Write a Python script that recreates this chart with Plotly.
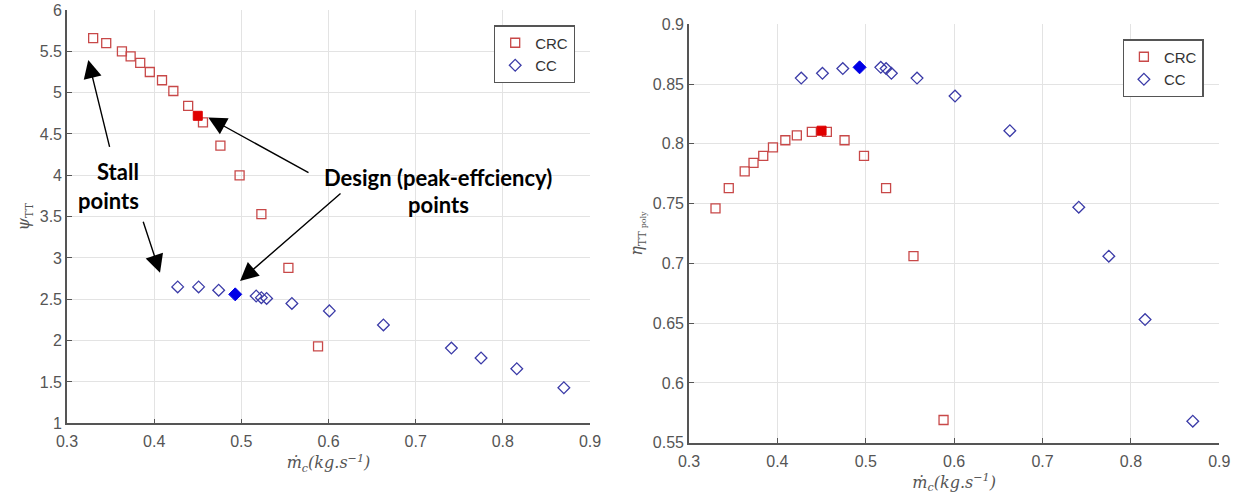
import plotly.graph_objects as go

# ---------------- data ----------------
mdot_crc = [0.330, 0.345, 0.363, 0.373, 0.384, 0.395, 0.409, 0.422, 0.439, 0.456, 0.476, 0.498, 0.523, 0.554, 0.588]
psi_crc = [5.66, 5.60, 5.50, 5.44, 5.36, 5.25, 5.15, 5.02, 4.84, 4.64, 4.36, 4.00, 3.53, 2.88, 1.93]
eta_crc = [0.746, 0.763, 0.777, 0.784, 0.790, 0.797, 0.803, 0.807, 0.810, 0.810, 0.803, 0.790, 0.763, 0.706, 0.569]

mdot_cc = [0.427, 0.451, 0.474, 0.517, 0.523, 0.529, 0.558, 0.601, 0.663, 0.741, 0.775, 0.816, 0.870]
psi_cc = [2.65, 2.65, 2.61, 2.54, 2.52, 2.51, 2.45, 2.36, 2.19, 1.91, 1.79, 1.66, 1.43]
eta_cc = [0.855, 0.859, 0.863, 0.864, 0.863, 0.859, 0.855, 0.840, 0.811, 0.747, 0.706, 0.653, 0.568]

# design (peak-efficiency) points
mdot_crc_design = [0.450]
psi_crc_design = [4.72]
eta_crc_design = [0.811]
mdot_cc_design = [0.493]
psi_cc_design = [2.56]
eta_cc_design = [0.864]

x_ticks = [0.3, 0.4, 0.5, 0.6, 0.7, 0.8, 0.9]
psi_ticks = [1, 1.5, 2, 2.5, 3, 3.5, 4, 4.5, 5, 5.5, 6]
eta_ticks = [0.55, 0.6, 0.65, 0.7, 0.75, 0.8, 0.85, 0.9]

# ---------------- style ----------------
W, H = 1239, 494
RED_OPEN = "#c84848"
BLUE_OPEN = "#3c3ca8"
RED_FILL = "#e00000"
BLUE_FILL = "#0000e6"
AX_COL = "#555555"
GRID_COL = "#e3e3e3"
TICK_FONT = dict(family="Liberation Sans, Arial, sans-serif", size=16, color="#555555")

def px_x(p):
    return p / W

def px_y(p):
    return 1 - p / H

fig = go.Figure()

sq = dict(symbol="square-open", size=9, color=RED_OPEN, line=dict(width=1.3, color=RED_OPEN))
dm = dict(symbol="diamond-open", size=9, color=BLUE_OPEN, line=dict(width=1.3, color=BLUE_OPEN))

# left subplot
fig.add_trace(go.Scatter(x=mdot_crc, y=psi_crc, mode="markers", name="CRC", marker=sq,
                         xaxis="x", yaxis="y", legend="legend"))
fig.add_trace(go.Scatter(x=mdot_cc, y=psi_cc, mode="markers", name="CC", marker=dm,
                         xaxis="x", yaxis="y", legend="legend"))
fig.add_trace(go.Scatter(x=mdot_crc_design, y=psi_crc_design, mode="markers", showlegend=False,
                         marker=dict(symbol="square", size=9, color=RED_FILL, line=dict(width=1, color=RED_FILL)),
                         xaxis="x", yaxis="y"))
fig.add_trace(go.Scatter(x=mdot_cc_design, y=psi_cc_design, mode="markers", showlegend=False,
                         marker=dict(symbol="diamond", size=10, color=BLUE_FILL, line=dict(width=1, color=BLUE_FILL)),
                         xaxis="x", yaxis="y"))

# right subplot
fig.add_trace(go.Scatter(x=mdot_crc, y=eta_crc, mode="markers", name="CRC", marker=sq,
                         xaxis="x2", yaxis="y2", legend="legend2"))
fig.add_trace(go.Scatter(x=mdot_cc, y=eta_cc, mode="markers", name="CC", marker=dm,
                         xaxis="x2", yaxis="y2", legend="legend2"))
fig.add_trace(go.Scatter(x=mdot_crc_design, y=eta_crc_design, mode="markers", showlegend=False,
                         marker=dict(symbol="square", size=9, color=RED_FILL, line=dict(width=1, color=RED_FILL)),
                         xaxis="x2", yaxis="y2"))
fig.add_trace(go.Scatter(x=mdot_cc_design, y=eta_cc_design, mode="markers", showlegend=False,
                         marker=dict(symbol="diamond", size=10, color=BLUE_FILL, line=dict(width=1, color=BLUE_FILL)),
                         xaxis="x2", yaxis="y2"))

xtitle = "<i>ṁ<sub>c</sub>(kg.s<sup>−1</sup>)</i>"
title_font = dict(family="DejaVu Serif, Liberation Serif, serif", size=16, color="#555555")

def xaxis_common(domain, anchor):
    return dict(domain=domain, anchor=anchor, range=[0.3, 0.9], tickvals=x_ticks,
                ticktext=[str(v) for v in x_ticks], showgrid=True, gridcolor=GRID_COL, gridwidth=1,
                showline=True, linecolor=AX_COL, linewidth=1.6, ticks="inside", ticklen=5,
                tickcolor=AX_COL, tickfont=TICK_FONT, zeroline=False, automargin=False,
                ticklabelstandoff=3,
                title=dict(text=xtitle, font=title_font, standoff=8))

def yaxis_common(domain, anchor, rng, ticks, title):
    return dict(domain=domain, anchor=anchor, range=rng, tickvals=ticks,
                ticktext=[("%g" % v) for v in ticks], showgrid=True, gridcolor=GRID_COL, gridwidth=1,
                showline=True, linecolor=AX_COL, linewidth=1.6, ticks="inside", ticklen=5,
                tickcolor=AX_COL, tickfont=TICK_FONT, zeroline=False, automargin=False,
                title=dict(text=title, font=dict(family="DejaVu Serif, Liberation Serif, serif", size=16, color="#555555"), standoff=6))

fig.update_layout(
    width=W, height=H,
    margin=dict(l=0, r=0, t=0, b=0),
    paper_bgcolor="white", plot_bgcolor="white",
    xaxis=xaxis_common([px_x(67), px_x(590)], "y"),
    yaxis=yaxis_common([px_y(423.3), px_y(10)], "x", [1, 6], psi_ticks, "<i>ψ</i><sub>TT</sub>"),
    xaxis2=xaxis_common([px_x(689), px_x(1219.3)], "y2"),
    yaxis2=yaxis_common([px_y(442.7), px_y(24.3)], "x2", [0.55, 0.9], eta_ticks,
                        "<i>η</i><sub>TT<span style='font-size:8px'> poly</span></sub>"),
    legend=dict(x=px_x(575), y=px_y(25.3), xanchor="right", yanchor="top",
                bgcolor="white", bordercolor="#555555", borderwidth=1.2,
                font=dict(family="Liberation Sans, Arial, sans-serif", size=15, color="#333333"),
                itemwidth=30, tracegroupgap=0),
    legend2=dict(x=px_x(1203.7), y=px_y(39.3), xanchor="right", yanchor="top",
                 bgcolor="white", bordercolor="#555555", borderwidth=1.2,
                 font=dict(family="Liberation Sans, Arial, sans-serif", size=15, color="#333333"),
                 itemwidth=30, tracegroupgap=0),
    showlegend=True,
)

# ---------------- annotations ----------------
ann_font = dict(family="Lato, Open Sans, sans-serif", size=22, color="black")
anns = [
    dict(text="<b>Stall</b>", x=px_x(141), y=px_y(171), xref="paper", yref="paper",
         xanchor="right", yanchor="middle", showarrow=False, font=ann_font),
    dict(text="<b>points</b>", x=px_x(141), y=px_y(200), xref="paper", yref="paper",
         xanchor="right", yanchor="middle", showarrow=False, font=ann_font),
    dict(text="<b>Design (peak-effciency)</b>", x=px_x(438), y=px_y(177), xref="paper", yref="paper",
         xanchor="center", yanchor="middle", showarrow=False, font=ann_font),
    dict(text="<b>points</b>", x=px_x(438), y=px_y(204), xref="paper", yref="paper",
         xanchor="center", yanchor="middle", showarrow=False, font=ann_font),
]
arrow_style = dict(text="", showarrow=True, arrowhead=2, arrowsize=2.6, arrowwidth=1.4,
                   arrowcolor="black", xref="x", yref="y", axref="pixel", ayref="pixel", standoff=0)
arrows = [
    dict(x=0.3244, y=5.395, ax=21.7, ay=88.3),
    dict(x=0.4067, y=2.82, ax=-17.3, ay=-52.7),
    dict(x=0.4621, y=4.70, ax=101.7, ay=56),
    dict(x=0.4985, y=2.723, ax=102, ay=-88.7),
]
for a in arrows:
    d = dict(arrow_style)
    d.update(a)
    anns.append(d)

fig.update_layout(annotations=anns)

fig.write_html("out.html")
